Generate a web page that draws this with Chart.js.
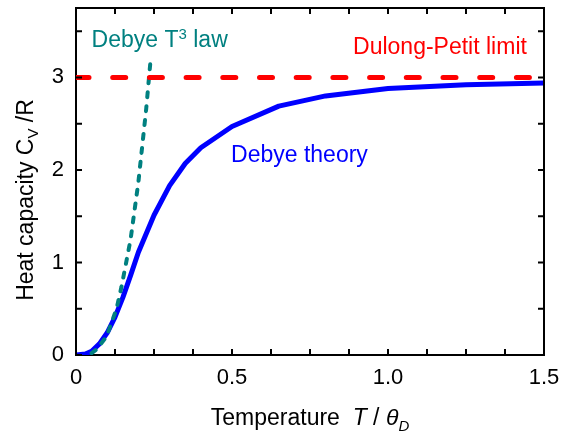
<!DOCTYPE html>
<html>
<head>
<meta charset="utf-8">
<script src="https://cdn.jsdelivr.net/npm/chart.js@4.4.1/dist/chart.umd.min.js"></script>
<style>
  html, body { margin: 0; padding: 0; background: #fff; }
  #chart { display: block; }
</style>
</head>
<body>
<canvas id="chart" width="561" height="437"></canvas>
<script>
// Debye theory curve, C_V/R vs T/theta_D
const debyeT = [0, 0.03, 0.05, 0.075, 0.1, 0.125, 0.15, 0.175, 0.2, 0.25, 0.3, 0.35, 0.4, 0.5, 0.65, 0.8, 1.0, 1.25, 1.5];
const debyeCv = [0, 0.01, 0.04, 0.12, 0.24, 0.41, 0.62, 0.86, 1.11, 1.51, 1.83, 2.07, 2.24, 2.47, 2.69, 2.8, 2.88, 2.92, 2.94];

// low temperature T^3 law
const t3T = [0.05, 0.066, 0.098, 0.13, 0.146, 0.175, 0.2, 0.225, 0.238];
const t3Cv = [0.02, 0.06, 0.2, 0.5, 0.74, 1.25, 1.87, 2.66, 3.15];

// Dulong-Petit limit
const dpT = [0, 1.46];
const dpCv = [3, 3];

// axis ticks
const xMajor = [0, 0.5, 1.0, 1.5];
const xLabels = ["0", "0.5", "1.0", "1.5"];
const xMinor = [0.125, 0.25, 0.375, 0.625, 0.75, 0.875, 1.125, 1.25, 1.375];
const yMajor = [0, 1, 2, 3];
const yLabels = ["0", "1", "2", "3"];
const yMinor = [0.5, 1.5, 2.5, 3.5];

const FONT = '"Liberation Sans", Arial, sans-serif';
const TEAL = "#008080";

function toPoints(xs, ys) {
  return xs.map((x, i) => ({ x: x, y: ys[i] }));
}

// draw a list of text pieces one after another: [text, size, italic, dy]
function drawRich(ctx, parts, x, y, align) {
  let total = 0;
  parts.forEach((p) => {
    ctx.font = (p[2] ? "italic " : "") + p[1] + "px " + FONT;
    total += ctx.measureText(p[0]).width;
  });
  let cx = align === "center" ? x - total / 2 : x;
  parts.forEach((p) => {
    ctx.font = (p[2] ? "italic " : "") + p[1] + "px " + FONT;
    ctx.fillText(p[0], cx, y + (p[3] || 0));
    cx += ctx.measureText(p[0]).width;
  });
}

const framePlugin = {
  id: "frame",
  afterDatasetsDraw(chart) {
    const ctx = chart.ctx;
    const xs = chart.scales.x;
    const ys = chart.scales.y;
    const a = chart.chartArea;
    ctx.save();
    ctx.strokeStyle = "#000";
    ctx.lineWidth = 2;
    ctx.beginPath();
    ctx.moveTo(a.left, a.top);
    ctx.lineTo(a.right, a.top);
    ctx.lineTo(a.right, a.bottom);
    ctx.stroke();

    // inward ticks on all four sides
    const len = 6;
    ctx.beginPath();
    xMajor.concat(xMinor).forEach((v) => {
      const px = xs.getPixelForValue(v);
      ctx.moveTo(px, a.bottom);
      ctx.lineTo(px, a.bottom - len);
      ctx.moveTo(px, a.top);
      ctx.lineTo(px, a.top + len);
    });
    yMajor.concat(yMinor).forEach((v) => {
      const py = ys.getPixelForValue(v);
      ctx.moveTo(a.left, py);
      ctx.lineTo(a.left + len, py);
      ctx.moveTo(a.right, py);
      ctx.lineTo(a.right - len, py);
    });
    ctx.stroke();

    // labels inside the plot
    ctx.textBaseline = "alphabetic";
    ctx.fillStyle = TEAL;
    drawRich(ctx, [["Debye T", 23], ["3", 15, false, -8], [" law", 23]],
      xs.getPixelForValue(0.05), ys.getPixelForValue(3.327), "left");
    ctx.fillStyle = "#ff0000";
    drawRich(ctx, [["Dulong-Petit limit", 23]],
      xs.getPixelForValue(0.888), ys.getPixelForValue(3.256), "left");
    ctx.fillStyle = "#0000ff";
    drawRich(ctx, [["Debye theory", 23]],
      xs.getPixelForValue(0.497), ys.getPixelForValue(2.083), "left");

    // axis titles
    ctx.fillStyle = "#000";
    drawRich(ctx, [["Temperature  ", 23], ["T", 23, true], [" / ", 23], ["\u03B8", 23, true], ["D", 15, true, 6]],
      (a.left + a.right) / 2, 425, "center");
    ctx.translate(33, 200);
    ctx.rotate(-Math.PI / 2);
    drawRich(ctx, [["Heat capacity C", 23], ["V", 15, false, 5], [" /R", 23]], 0, 0, "center");
    ctx.restore();
  },
};

const ctx = document.getElementById("chart").getContext("2d");
new Chart(ctx, {
  type: "line",
  data: {
    datasets: [
      {
        label: "Dulong-Petit limit",
        data: toPoints(dpT, dpCv),
        borderColor: "#ff0000",
        borderWidth: 5,
        borderDash: [13, 23.7],
        borderCapStyle: "round",
        pointRadius: 0,
        fill: false,
        clip: 0,
      },
      {
        label: "Debye T3 law",
        data: toPoints(t3T, t3Cv),
        borderColor: TEAL,
        borderWidth: 4,
        borderDash: [5, 9],
        borderCapStyle: "round",
        pointRadius: 0,
        fill: false,
        clip: 0,
      },
      {
        label: "Debye theory",
        data: toPoints(debyeT, debyeCv),
        borderColor: "#0000ff",
        borderWidth: 5,
        borderJoinStyle: "round",
        pointRadius: 0,
        fill: false,
        clip: 0,
      },
    ],
  },
  options: {
    responsive: false,
    animation: false,
    devicePixelRatio: 1,
    layout: { padding: { left: 0, top: 8, right: 17, bottom: 0 } },
    plugins: { legend: { display: false }, tooltip: { enabled: false } },
    scales: {
      x: {
        type: "linear",
        min: 0,
        max: 1.5,
        afterBuildTicks: (s) => { s.ticks = xMajor.map((v) => ({ value: v })); },
        afterFit: (s) => {
          s.height = 82;
          s.paddingLeft = 0;
          s.paddingRight = 0;
        },
        grid: { display: false, drawTicks: false },
        border: { display: true, color: "#000", width: 2 },
        ticks: {
          padding: 10,
          maxRotation: 0,
          color: "#000",
          font: { family: FONT, size: 22 },
          callback: (v) => xLabels[xMajor.indexOf(v)],
        },
      },
      y: {
        type: "linear",
        min: 0,
        max: 3.75,
        afterBuildTicks: (s) => { s.ticks = yMajor.map((v) => ({ value: v })); },
        afterFit: (s) => {
          s.width = 76;
          s.paddingTop = 0;
          s.paddingBottom = 0;
        },
        grid: { display: false, drawTicks: false },
        border: { display: true, color: "#000", width: 2 },
        ticks: {
          padding: 12,
          color: "#000",
          font: { family: FONT, size: 22 },
          callback: (v) => yLabels[yMajor.indexOf(v)],
        },
      },
    },
  },
  plugins: [framePlugin],
});
</script>
</body>
</html>
